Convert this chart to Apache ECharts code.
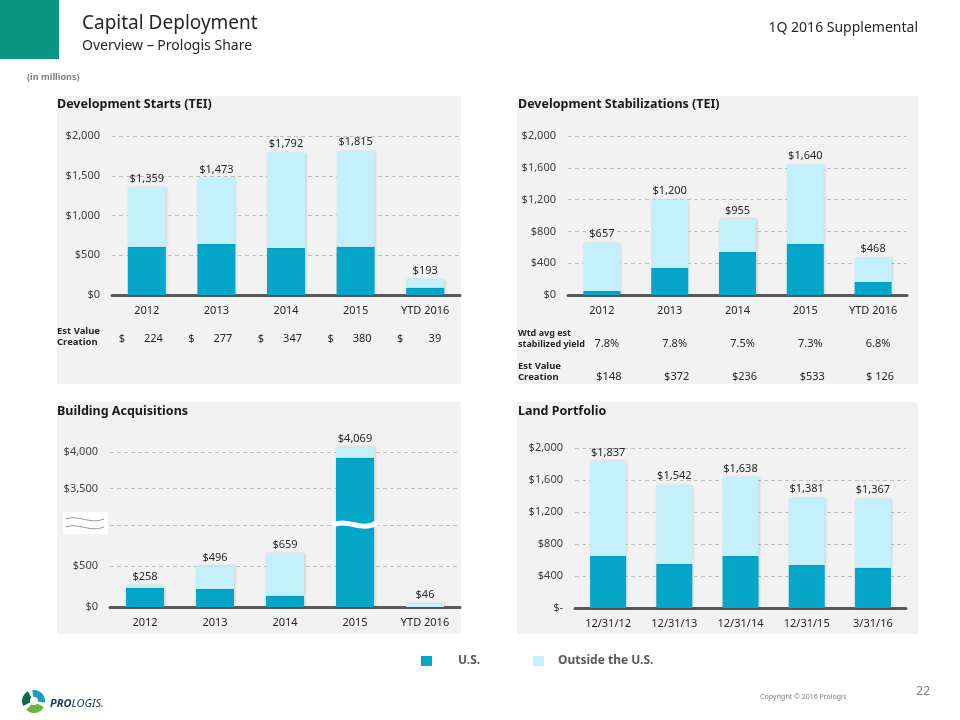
<!DOCTYPE html>
<html><head><meta charset="utf-8">
<script src="https://cdn.jsdelivr.net/npm/echarts@6/dist/echarts.min.js"></script>
<style>html,body{margin:0;padding:0;background:#fff}#c{width:960px;height:720px}</style>
</head><body><div id="c"></div>
<script>
// ---- data ----
const years = ['2012', '2013', '2014', '2015', 'YTD 2016'];
const startsTotal = [1359, 1473, 1792, 1815, 193];
const startsUS = [607, 641, 591, 606, 92];
const startsValueCreation = [224, 277, 347, 380, 39];

const stabTotal = [657, 1200, 955, 1640, 468];
const stabUS = [50, 340, 541, 642, 164];
const stabYield = ['7.8%', '7.8%', '7.5%', '7.3%', '6.8%'];
const stabValueCreation = ['$148', '$372', '$236', '$533', '$ 126'];

const acqTotal = [258, 496, 659, 4069, 46];
const acqUS = [234, 221, 137, 3924, 0];

const landDates = ['12/31/12', '12/31/13', '12/31/14', '12/31/15', '3/31/16'];
const landTotal = [1837, 1542, 1638, 1381, 1367];
const landUS = [651, 551, 651, 539, 502];

const seriesNames = ['U.S.', 'Outside the U.S.'];

// ---- style ----
const FONT = '"Noto Sans", "Open Sans", sans-serif';
const C_US = '#06A6C9';
const C_OUT = '#C4F0FB';
const C_BG = '#F2F2F2';
const money = v => '$' + v.toLocaleString('en-US');
const outside = (tot, us) => tot.map((t, i) => t - us[i]);

function xAxis(gi, data, show) {
  return {
    type: 'category', gridIndex: gi, data: data, show: show !== false,
    axisLine: { lineStyle: { color: '#595959', width: 3 } },
    axisTick: { show: false },
    axisLabel: { fontFamily: FONT, fontSize: 11, color: '#262626', margin: 10 }
  };
}
function yAxis(gi, min, max, interval, extra) {
  return Object.assign({
    type: 'value', gridIndex: gi, min: min, max: max, interval: interval,
    axisLine: { show: false }, axisTick: { show: false },
    splitLine: { lineStyle: { color: '#BFBFBF', type: [4, 3], width: 1 } },
    axisLabel: { fontFamily: FONT, fontSize: 11, color: '#404040', margin: 12, formatter: money }
  }, extra || {});
}
const barShadow = { shadowBlur: 3, shadowColor: 'rgba(0,0,0,0.18)', shadowOffsetX: 1 };
function pair(xi, stack, us, out, totals, barWidth, labelShow) {
  return [
    { name: seriesNames[0], type: 'bar', xAxisIndex: xi, yAxisIndex: xi, stack: stack,
      barWidth: barWidth, data: us, itemStyle: Object.assign({ color: C_US }, barShadow) },
    { name: seriesNames[1], type: 'bar', xAxisIndex: xi, yAxisIndex: xi, stack: stack,
      barWidth: barWidth,
      data: out.map((v, i) => (v === '-' ? '-' : { value: v, label: { show: labelShow ? labelShow(i) : true } })),
      itemStyle: Object.assign({ color: C_OUT }, barShadow),
      label: { show: true, position: 'top', distance: 3, fontFamily: FONT, fontSize: 11, color: '#262626',
        formatter: p => money(totals[p.dataIndex]) } }
  ];
}

const acqOut = outside(acqTotal, acqUS);
const acqUSUpper = acqUS.map((v, i) => (acqTotal[i] > 1000 ? v : '-'));
const acqOutUpper = acqOut.map((v, i) => (acqTotal[i] > 1000 ? v : '-'));

const legendText = { fontFamily: FONT, fontSize: 12, fontWeight: 'bold', color: '#595959' };
const option = {
  animation: false,
  backgroundColor: '#fff',
  textStyle: { fontFamily: FONT },
  legend: [
    { data: [seriesNames[0]], left: 416, top: 650, itemWidth: 11, itemHeight: 10, icon: 'rect', selectedMode: false,
      textStyle: Object.assign({ padding: [0, 0, 0, 21] }, legendText) },
    { data: [seriesNames[1]], left: 528, top: 650, itemWidth: 11, itemHeight: 10, icon: 'rect', selectedMode: false,
      textStyle: Object.assign({ padding: [0, 0, 0, 9] }, legendText) }
  ],
  grid: [
    { left: 112, width: 348, top: 136, height: 159 },
    { left: 568, width: 339, top: 136, height: 159 },
    { left: 110, width: 350, top: 525, height: 82 },
    { left: 110, width: 350, top: 416, height: 109 },
    { left: 575, width: 331, top: 448, height: 160 }
  ],
  xAxis: [
    xAxis(0, years), xAxis(1, years), xAxis(2, years), xAxis(3, years, false), xAxis(4, landDates)
  ],
  yAxis: [
    yAxis(0, 0, 2000, 500),
    yAxis(1, 0, 2000, 400),
    yAxis(2, 0, 1000, 500, { axisLabel: { fontFamily: FONT, fontSize: 11, color: '#404040', margin: 12, formatter: money, showMaxLabel: false } }),
    yAxis(3, 3000, 4500, 500, {
      axisLabel: { fontFamily: FONT, fontSize: 11, color: '#404040', margin: 12, formatter: money, showMinLabel: false, showMaxLabel: false },
      splitLine: { showMinLine: false, showMaxLine: false, lineStyle: { color: '#BFBFBF', type: [4, 3], width: 1 } }
    }),
    yAxis(4, 0, 2000, 400, { axisLabel: { fontFamily: FONT, fontSize: 11, color: '#404040', margin: 12, formatter: v => (v === 0 ? '$-' : money(v)) } })
  ],
  series: [].concat(
    pair(0, 's0', startsUS, outside(startsTotal, startsUS), startsTotal, 38),
    pair(1, 's1', stabUS, outside(stabTotal, stabUS), stabTotal, 37),
    pair(2, 's2', acqUS, acqOut, acqTotal, 38, i => acqTotal[i] <= 1000),
    pair(3, 's3', acqUSUpper, acqOutUpper, acqTotal, 38),
    pair(4, 's4', landUS, outside(landTotal, landUS), landTotal, 36)
  )
};

const chart = echarts.init(document.getElementById('c'), null, { renderer: 'canvas' });
chart.setOption(option);

// ---- decorations and text rows ----
const g = [];
function rect(x, y, w, h, fill, z) { g.push({ type: 'rect', z: z == null ? -10 : z, shape: { x, y, width: w, height: h }, style: { fill } }); }
function text(t, x, y, font, fill, align, z) {
  g.push({ type: 'text', z: z || 10, x, y, style: { text: t, font, fill, textAlign: align || 'left', textVerticalAlign: 'middle' } });
}
function curve(x1, y1, c1x, c1y, c2x, c2y, x2, y2, stroke, lw, z) {
  g.push({ type: 'bezierCurve', z: z, shape: { x1, y1, cpx1: c1x, cpy1: c1y, cpx2: c2x, cpy2: c2y, x2, y2 }, style: { stroke, lineWidth: lw, fill: null } });
}
// header
rect(0, 0, 59, 59, '#0A9482', 1);
text('Capital Deployment', 82, 24, '19px ' + FONT, '#262626');
text('Overview \u2013 Prologis Share', 82, 46, '14px ' + FONT, '#262626');
text('1Q 2016 Supplemental', 918, 28, '14px ' + FONT, '#262626', 'right');
text('(in millions)', 27, 77, 'bold 9px ' + FONT, '#808080');
// panels
rect(57, 96, 404, 288, C_BG);
rect(517, 96, 401, 288, C_BG);
rect(57, 402, 404, 232, C_BG);
rect(517, 402, 401, 232, C_BG);
text('Development Starts (TEI)', 57, 104, 'bold 12.5px ' + FONT, '#1a1a1a');
text('Development Stabilizations (TEI)', 518, 104, 'bold 12.5px ' + FONT, '#1a1a1a');
text('Building Acquisitions', 57, 411, 'bold 12.5px ' + FONT, '#1a1a1a');
text('Land Portfolio', 518, 411, 'bold 12.5px ' + FONT, '#1a1a1a');

// panel 1 row
text('Est Value', 57, 331, 'bold 9.5px ' + FONT, '#262626');
text('Creation', 57, 342, 'bold 9.5px ' + FONT, '#262626');
startsValueCreation.forEach((v, i) => {
  const cx = chart.convertToPixel({ xAxisIndex: 0 }, i);
  text('$', cx - 25, 339, '11px ' + FONT, '#262626', 'center');
  text(String(v), cx + 16, 339, '11px ' + FONT, '#262626', 'right');
});
// panel 2 rows
text('Wtd avg est', 518, 333, 'bold 9px ' + FONT, '#262626');
text('stabilized yield', 518, 344, 'bold 9px ' + FONT, '#262626');
text('Est Value', 518, 366, 'bold 9.5px ' + FONT, '#262626');
text('Creation', 518, 377, 'bold 9.5px ' + FONT, '#262626');
stabYield.forEach((v, i) => {
  const cx = chart.convertToPixel({ xAxisIndex: 1 }, i);
  text(v, cx + 5, 344, '11px ' + FONT, '#262626', 'center');
});
stabValueCreation.forEach((v, i) => {
  const cx = chart.convertToPixel({ xAxisIndex: 1 }, i);
  text(v, cx + 7, 377, '11px ' + FONT, '#262626', 'center');
});

// axis break marks (building acquisitions)
const brk = chart.convertToPixel({ gridIndex: 2 }, [3, 1000]);
const yb = brk[1] - 1;
rect(63, yb - 12, 45, 22, '#fff', 50);
curve(66, yb - 5, 78, yb - 10, 90, yb + 1, 104, yb - 5, '#9a9a9a', 1, 51);
curve(66, yb + 3, 78, yb - 2, 90, yb + 9, 104, yb + 3, '#9a9a9a', 1, 51);
const bx = brk[0];
curve(bx - 22, yb + 1, bx - 8, yb - 6, bx + 6, yb + 8, bx + 22, yb - 1, '#fff', 5, 50);

// footer
g.push({ type: 'sector', z: 5, shape: { cx: 34, cy: 701, r: 11, r0: 0, startAngle: -Math.PI * 0.55, endAngle: Math.PI * 0.05 }, style: { fill: '#1D9DBF' } });
g.push({ type: 'sector', z: 5, shape: { cx: 34, cy: 702, r: 11, r0: 0, startAngle: Math.PI * 0.15, endAngle: Math.PI * 0.75 }, style: { fill: '#6DB33F' } });
g.push({ type: 'sector', z: 5, shape: { cx: 33, cy: 701, r: 11, r0: 0, startAngle: Math.PI * 0.85, endAngle: Math.PI * 1.35 }, style: { fill: '#0B6B4F' } });
g.push({ type: 'circle', z: 6, shape: { cx: 34, cy: 701, r: 4 }, style: { fill: '#fff' } });
g.push({ type: 'text', z: 10, x: 50, y: 704, style: {
  text: '{a|PRO}{b|LOGIS.}', textVerticalAlign: 'middle',
  rich: { a: { font: 'italic bold 11px ' + FONT, fill: '#1B365D' }, b: { font: 'italic 11px ' + FONT, fill: '#1B365D' } } } });
text('Copyright \u00A9 2016 Prologis', 760, 697, '7px ' + FONT, '#808080');
text('22', 930, 692, '12px ' + FONT, '#808080', 'right');

chart.setOption({ graphic: g });
</script>
</body></html>
